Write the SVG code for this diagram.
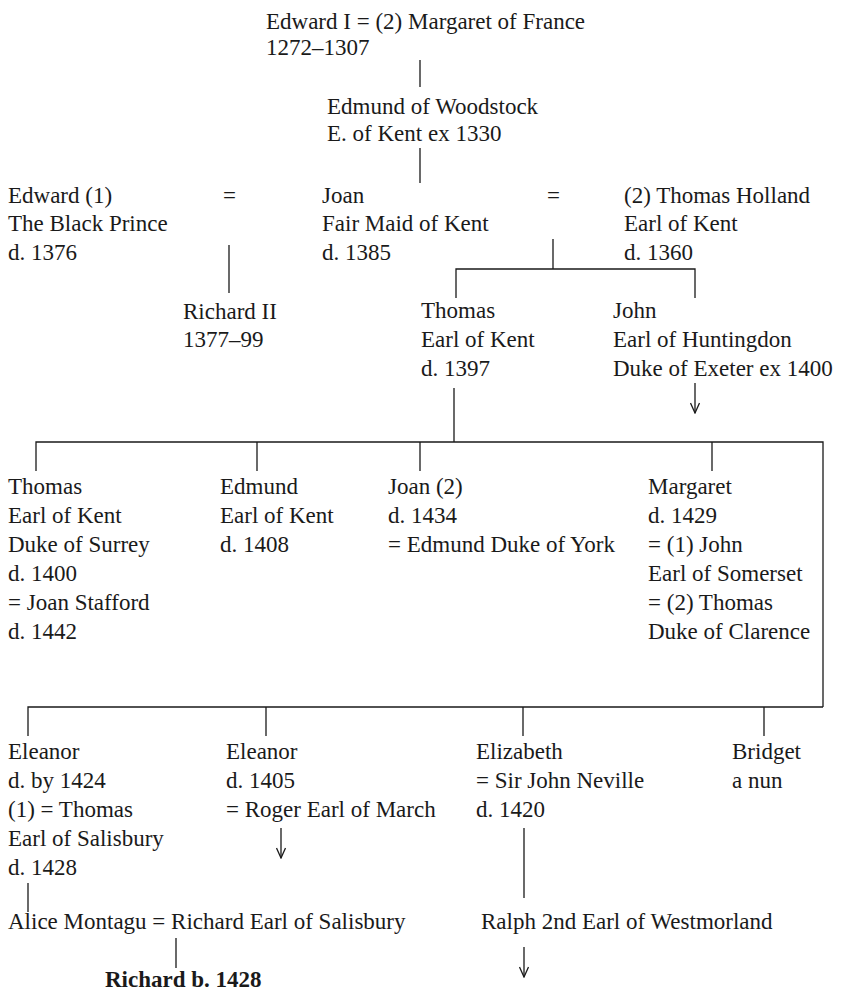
<svg xmlns="http://www.w3.org/2000/svg" width="844" height="994" viewBox="0 0 844 994">
<defs>
<style>
text{font-family:"Liberation Serif","Times New Roman",serif;font-size:23px;fill:#1a1a1a}
.b{font-weight:bold}
.ln{stroke:#1a1a1a;stroke-width:1.3;fill:none}
</style>
<marker id="arr" viewBox="0 0 12 10" refX="11" refY="5" markerWidth="12" markerHeight="10" markerUnits="userSpaceOnUse" orient="auto">
<path d="M1,0.5 L11,5 L1,9.5" fill="none" stroke="#1a1a1a" stroke-width="1.3"/>
</marker>
</defs>
<rect width="844" height="994" fill="#ffffff"/>
<g id="connectors" class="ln">
<line x1="420" y1="60" x2="420" y2="87"/>
<line x1="420" y1="148" x2="420" y2="183"/>
<line x1="229" y1="245" x2="229" y2="293"/>
<line x1="553" y1="239" x2="553" y2="269"/>
<polyline points="456,298 456,269 695,269 695,298"/>
<line x1="695" y1="383" x2="695" y2="413" marker-end="url(#arr)"/>
<line x1="454" y1="388" x2="454" y2="442"/>
<polyline points="36,471 36,442 823,442 823,707"/>
<line x1="257" y1="442" x2="257" y2="471"/>
<line x1="420" y1="442" x2="420" y2="471"/>
<line x1="712" y1="442" x2="712" y2="471"/>
<polyline points="28,736 28,707 823,707"/>
<line x1="266" y1="707" x2="266" y2="736"/>
<line x1="523" y1="707" x2="523" y2="736"/>
<line x1="764" y1="707" x2="764" y2="736"/>
<line x1="281" y1="828" x2="281" y2="858" marker-end="url(#arr)"/>
<line x1="524" y1="828" x2="524" y2="898"/>
<line x1="28" y1="883" x2="28" y2="912"/>
<line x1="176" y1="938" x2="176" y2="968"/>
<line x1="524" y1="947" x2="524" y2="977" marker-end="url(#arr)"/>
</g>
<g id="edward-i"><text x="266" y="29">Edward I = (2) Margaret of France</text><text x="266" y="55">1272–1307</text></g>
<g id="edmund-woodstock"><text x="327" y="114">Edmund of Woodstock</text><text x="327" y="141">E. of Kent ex 1330</text></g>
<g id="black-prince"><text x="8" y="203">Edward (1)</text><text x="8" y="231">The Black Prince</text><text x="8" y="260">d. 1376</text></g>
<g id="eq1"><text x="223" y="203">=</text></g>
<g id="joan-kent"><text x="322" y="203">Joan</text><text x="322" y="231">Fair Maid of Kent</text><text x="322" y="260">d. 1385</text></g>
<g id="eq2"><text x="547" y="203">=</text></g>
<g id="thomas-holland"><text x="624" y="203">(2) Thomas Holland</text><text x="624" y="231">Earl of Kent</text><text x="624" y="260">d. 1360</text></g>
<g id="richard-ii"><text x="183" y="319">Richard II</text><text x="183" y="347">1377–99</text></g>
<g id="thomas-1397"><text x="421" y="318">Thomas</text><text x="421" y="347">Earl of Kent</text><text x="421" y="376">d. 1397</text></g>
<g id="john-huntingdon"><text x="613" y="318">John</text><text x="613" y="347">Earl of Huntingdon</text><text x="613" y="376">Duke of Exeter ex 1400</text></g>
<g id="thomas-1400"><text x="8" y="494">Thomas</text><text x="8" y="523">Earl of Kent</text><text x="8" y="552">Duke of Surrey</text><text x="8" y="581">d. 1400</text><text x="8" y="610">= Joan Stafford</text><text x="8" y="639">d. 1442</text></g>
<g id="edmund-1408"><text x="220" y="494">Edmund</text><text x="220" y="523">Earl of Kent</text><text x="220" y="552">d. 1408</text></g>
<g id="joan-1434"><text x="388" y="494">Joan (2)</text><text x="388" y="523">d. 1434</text><text x="388" y="552">= Edmund Duke of York</text></g>
<g id="margaret-1429"><text x="648" y="494">Margaret</text><text x="648" y="523">d. 1429</text><text x="648" y="552">= (1) John</text><text x="648" y="581">Earl of Somerset</text><text x="648" y="610">= (2) Thomas</text><text x="648" y="639">Duke of Clarence</text></g>
<g id="eleanor-1424"><text x="8" y="759">Eleanor</text><text x="8" y="788">d. by 1424</text><text x="8" y="817">(1) = Thomas</text><text x="8" y="846">Earl of Salisbury</text><text x="8" y="875">d. 1428</text></g>
<g id="eleanor-1405"><text x="226" y="759">Eleanor</text><text x="226" y="788">d. 1405</text><text x="226" y="817">= Roger Earl of March</text></g>
<g id="elizabeth"><text x="476" y="759">Elizabeth</text><text x="476" y="788">= Sir John Neville</text><text x="476" y="817">d. 1420</text></g>
<g id="bridget"><text x="732" y="759">Bridget</text><text x="732" y="788">a nun</text></g>
<g id="alice-montagu"><text x="8" y="929">Alice Montagu = Richard Earl of Salisbury</text></g>
<g id="ralph"><text x="481" y="929">Ralph 2nd Earl of Westmorland</text></g>
<g id="richard-1428"><text class="b" x="105" y="987">Richard b. 1428</text></g>
</svg>
